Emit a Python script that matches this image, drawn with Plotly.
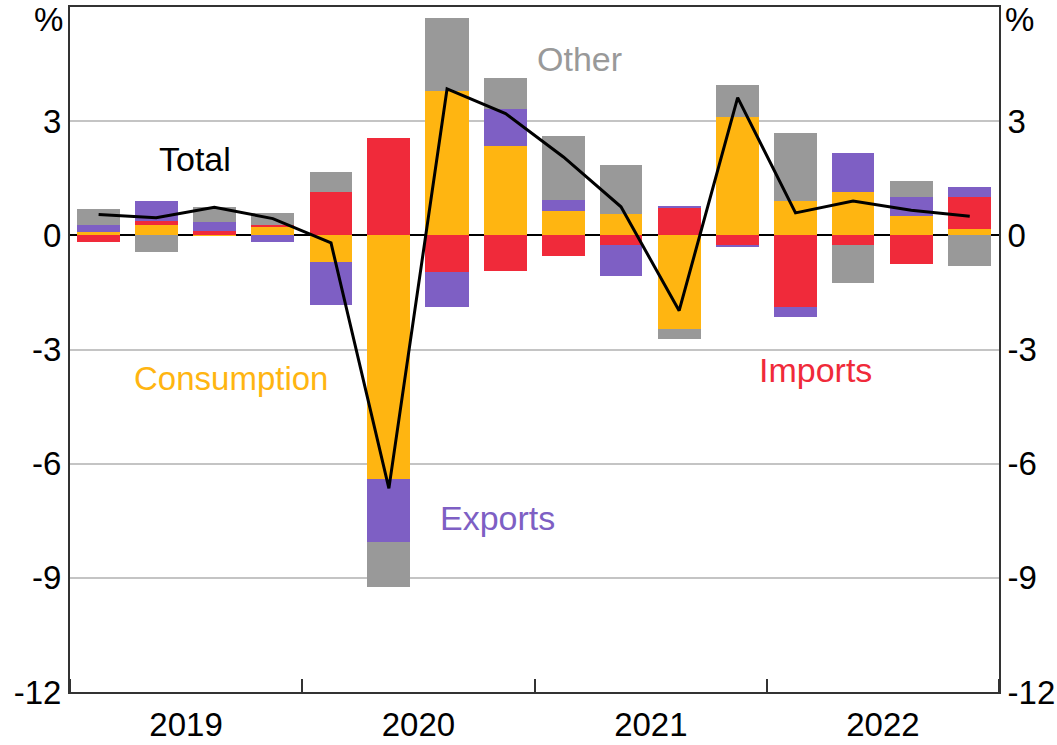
import pandas as pd
import plotly.graph_objects as go

quarters = ["2019-Q1", "2019-Q2", "2019-Q3", "2019-Q4",
            "2020-Q1", "2020-Q2", "2020-Q3", "2020-Q4",
            "2021-Q1", "2021-Q2", "2021-Q3", "2021-Q4",
            "2022-Q1", "2022-Q2", "2022-Q3", "2022-Q4"]

consumption = [0.09, 0.28, 0.02, 0.22, -0.71, -6.41, 3.78, 2.35,
               0.63, 0.55, -2.45, 3.11, 0.91, 1.13, 0.50, 0.17]
imports = [-0.17, 0.10, 0.10, 0.04, 1.13, 2.57, -0.97, -0.93,
           -0.54, -0.26, 0.74, -0.28, -1.88, -0.26, -0.76, 0.85]
exports = [0.19, 0.53, 0.23, -0.17, -1.13, -1.66, -0.90, 0.98,
           0.30, -0.80, 0.03, -0.03, -0.26, 1.03, 0.52, 0.24]
other = [0.40, -0.43, 0.39, 0.33, 0.53, -1.16, 1.92, 0.80,
         1.67, 1.30, -0.27, 0.84, 1.78, -0.99, 0.41, -0.80]
total = [0.55, 0.46, 0.74, 0.44, -0.20, -6.65, 3.85, 3.20,
         2.06, 0.75, -1.98, 3.62, 0.59, 0.90, 0.66, 0.50]

y_ticks = [-12, -9, -6, -3, 0, 3]

colors = {"Consumption": "#FFB511", "Imports": "#F02A3A",
          "Exports": "#7E5FC4", "Other": "#999999"}

periods = pd.PeriodIndex(quarters, freq="Q")
starts = periods.start_time
ends = periods.end_time
mids = starts + (ends - starts) / 2
widths = [0.74 * (e - s).total_seconds() * 1000 for s, e in zip(starts, ends)]

fig = go.Figure()
for name, vals in [("Consumption", consumption), ("Imports", imports),
                   ("Exports", exports), ("Other", other)]:
    fig.add_trace(go.Bar(x=mids, y=vals, width=widths, name=name,
                         marker=dict(color=colors[name], line=dict(width=0)),
                         showlegend=False))

fig.add_trace(go.Scatter(x=mids, y=total, mode="lines", name="Total",
                         line=dict(color="black", width=3),
                         showlegend=False, yaxis="y2"))

font_family = "Liberation Sans, Arial, sans-serif"
fs = 33

fig.update_layout(
    barmode="relative",
    bargap=0,
    width=1057, height=745,
    margin=dict(l=70, r=58, t=7, b=53, autoexpand=False),
    paper_bgcolor="white", plot_bgcolor="white",
    font=dict(family=font_family, size=fs, color="black"),
    xaxis=dict(type="date", range=["2019-01-01", "2023-01-01"],
               tick0="2019-01-01", dtick="M12", ticklabelmode="period",
               tickformat="%Y", ticks="inside", ticklen=13, tickwidth=1.5,
               tickcolor="#333333", showgrid=False, showline=True,
               linecolor="#333333", linewidth=2, mirror=True,
               ticklabelstandoff=2, automargin=False,
               tickfont=dict(size=fs, family=font_family, color="black")),
    yaxis=dict(range=[-12, 6], tickvals=y_ticks, ticktext=[str(v) for v in y_ticks],
               showgrid=True, gridcolor="#C4C4C4", gridwidth=1.5,
               zeroline=True, zerolinecolor="black", zerolinewidth=1.5,
               showline=True, linecolor="#333333", linewidth=2, ticks="",
               automargin=False,
               tickfont=dict(size=fs, family=font_family, color="black")),
    yaxis2=dict(range=[-12, 6], tickvals=y_ticks, ticktext=[str(v) for v in y_ticks],
                overlaying="y", side="right", showgrid=False, zeroline=False,
                showline=True, linecolor="#333333", linewidth=2, ticks="",
                automargin=False,
                tickfont=dict(size=fs, family=font_family, color="black")),
)

annotations = [
    dict(text="Total", x=0.135, y=2.0, color="black", size=34),
    dict(text="Other", x=0.548, y=4.63, color="#999999", size=34),
    dict(text="Consumption", x=0.173, y=-3.75, color="#FFB511", size=33),
    dict(text="Exports", x=0.46, y=-7.42, color="#7E5FC4", size=34),
    dict(text="Imports", x=0.802, y=-3.55, color="#F02A3A", size=34),
]
for a in annotations:
    fig.add_annotation(text=a["text"], x=a["x"], y=a["y"], xref="paper", yref="y",
                       showarrow=False, xanchor="center", yanchor="middle",
                       font=dict(family=font_family, size=a["size"], color=a["color"]))

for xp, anchor, shift in [(0, "right", -5), (1, "left", 4)]:
    fig.add_annotation(text="%", x=xp, y=5.66, xref="paper", yref="y",
                       showarrow=False, xanchor=anchor, yanchor="middle", xshift=shift,
                       font=dict(family=font_family, size=fs, color="black"))

fig.write_html("out.html", config={"displayModeBar": False},
               post_script="document.body.style.margin='0';")
